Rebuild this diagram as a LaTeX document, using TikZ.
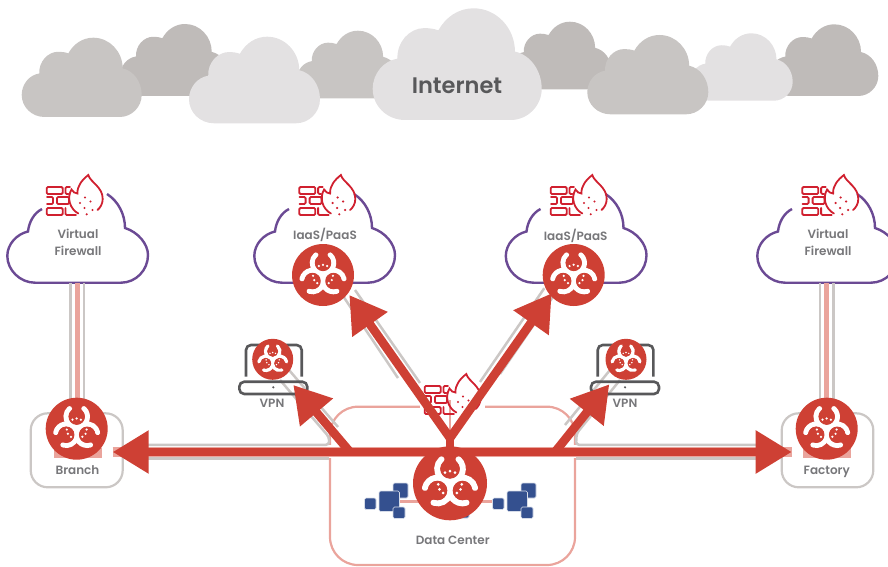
\documentclass[tikz,border=0pt]{standalone}
\usepackage{fontspec}
\setmainfont{Poppins}[UprightFont=* Medium,BoldFont=* SemiBold]
\usetikzlibrary{arrows.meta,calc}
\definecolor{hazred}{HTML}{CE4034}
\definecolor{pinkw}{HTML}{EAA49C}
\definecolor{grayw}{HTML}{CBC7C5}
\definecolor{cloudm}{HTML}{C8C5C3}
\definecolor{cloudd}{HTML}{BFBBB9}
\definecolor{cloudl}{HTML}{E3E1E2}
\definecolor{purp}{HTML}{6B4A94}
\definecolor{fwred}{HTML}{D0202F}
\definecolor{labg}{HTML}{77777A}
\definecolor{dgray}{HTML}{58585A}
\definecolor{blu}{HTML}{34508F}
\tikzset{
  hazard/.style={circle,fill=hazred,inner sep=0pt},
  lab/.style={text=labg,font=\fontsize{12}{17.5}\selectfont\bfseries,align=center,inner sep=0pt},
  graywire/.style={draw=grayw,line width=2.5pt,rounded corners=3pt},
  pinkwire/.style={draw=pinkw,line width=5pt},
  redwire/.style={draw=hazred,line width=8.7pt,-{Triangle[length=36pt,width=41pt]}},
  redstem/.style={draw=hazred,line width=8.7pt},
  roombox/.style={draw=grayw,line width=2.2pt,rounded corners=17pt,fill=white},
  blubox/.style={fill=blu,draw=white!80!blu,line width=.6pt,rounded corners=1.5pt},
  fwline/.style={draw=fwred,line width=1.8pt,rounded corners=1.2pt,line cap=round},
  purpline/.style={draw=purp,line width=2.4pt},
  lapline/.style={draw=dgray,line width=2.6pt,rounded corners=5pt}
}
% grey cloud: left x, top y, width, height
\newcommand\skycloud[5]{%
  \begin{scope}[shift={(#1,#2)},xscale=#3/120,yscale=#4/79]
    \fill[#5] (23,79) .. controls (10,79) and (0,69) .. (0,57) .. controls (0,46) and (8,37) .. (17.6,35.6)
      .. controls (17,24) and (26,14) .. (36.6,14) .. controls (40,14) and (44,14.5) .. (46.6,15.6)
      .. controls (52,6) and (61,0) .. (71.6,0) .. controls (88,0) and (101,14) .. (101,30.6)
      .. controls (112,33) and (120,44) .. (120,57) .. controls (120,69) and (110,79) .. (98,79) -- cycle;
  \end{scope}}
% purple cloud outline, shifted by dx
\newcommand\purpcloud[1]{%
  \begin{scope}[shift={(#1,0)}]
    \draw[purpline] (107,194) .. controls (118,201) and (125,214) .. (125,228)
      .. controls (138,232) and (148,244) .. (148,255) .. controls (148,270) and (136,282.7) .. (121,282.7)
      -- (35,282.7) .. controls (20,282.7) and (7.3,270) .. (7.3,256)
      .. controls (7.3,244) and (17,234) .. (28,231.5) .. controls (29,222) and (34,213) .. (42,209);
  \end{scope}}
% firewall icon
\newcommand\firewall[2]{%
  \begin{scope}[shift={(#1,#2)}]
    \draw[fwline] (46.7,187) rectangle (62.7,194);
    \draw[fwline] (70,187) -- (65.5,187) -- (65.5,194) -- (68.5,194);
    \draw[fwline] (47,197) -- (53,197) -- (53,204) -- (47,204);
    \draw[fwline] (57,197) rectangle (69,204);
    \draw[fwline] (46.7,208) rectangle (62.7,215);
    \draw[fwline] (65.5,208) -- (65.5,215) -- (76,215);
    \draw[draw=fwred,line width=1.8pt,line cap=round] (78.3,213.5) .. controls (70,209) and (66.5,198) .. (71.5,189.5)
      .. controls (73,192) and (75,193.5) .. (77.5,193.5) .. controls (77,186) and (82,180) .. (88.3,175)
      .. controls (90,182) and (103,187) .. (102.7,199) .. controls (102.7,204) and (100,208) .. (97.5,210);
    \foreach \p in {(80,203),(85,197.5),(90.5,201.5),(92.5,210),(86.7,214.3),(84.5,208)}
      \fill[fwred] \p circle (1.15pt);
  \end{scope}}
% biohazard badge
\newcommand\badge[4]{%
  \node[hazard,minimum size=2*#4 pt] (#1) at (#2,#3) {};
  \begin{scope}[shift={(#1.center)},x=1pt,y=1pt]
    \foreach \a in {90,210,330} {
      \draw[white,line width=#4*0.165pt,line cap=round]
        ([shift={(\a:.39*#4)}] \a+42:.345*#4) arc[start angle=\a+42,end angle=\a+318,radius=.345*#4];
    }
    \foreach \a in {90,210,330} {
      \fill[hazred] (\a:.39*#4) circle ({.265*#4});
      \fill[white] (\a+25:.32*#4) circle ({.04*#4});
      \fill[white] (\a:.33*#4) circle ({.04*#4});
      \fill[white] (\a-25:.32*#4) circle ({.04*#4});
    }
  \end{scope}}
% laptop icon
\newcommand\laptop[1]{%
  \begin{scope}[shift={(#1,0)}]
    \draw[lapline] (246,376.7) -- (246,345) -- (301.7,345) -- (301.7,376.7);
    \draw[lapline] (239.3,381.7) rectangle (307.3,394);
    \fill[dgray] (273.3,387.3) circle (1.2pt);
  \end{scope}}
% blue cluster
\newcommand\cluster[1]{%
  \begin{scope}[shift={(#1,0)}]
    \filldraw[blubox] (393,483) rectangle (408,498);
    \filldraw[blubox] (364.5,498) rectangle (376,509.5);
    \filldraw[blubox] (379,491) rectangle (399.5,511.5);
    \filldraw[blubox] (393,507) rectangle (405,518.5);
  \end{scope}}
\begin{document}
\begin{tikzpicture}[x=1pt,y=-1pt]
\useasboundingbox (0,0) rectangle (888,567);
% sky
\skycloud{120}{24}{109}{72}{cloudd}
\skycloud{296.7}{30.7}{102.7}{67.6}{cloudm}
\skycloud{508.7}{21.7}{102.7}{67.6}{cloudd}
\skycloud{769.3}{24.3}{109}{71.7}{cloudd}
\skycloud{690.3}{33.3}{102.4}{67.4}{cloudl}
\skycloud{21.7}{37.7}{120}{79.3}{cloudm}
\skycloud{189}{36.7}{131}{86.6}{cloudl}
\skycloud{372.7}{8.3}{169}{111.7}{cloudl}
\skycloud{587.3}{35}{121}{79.3}{cloudm}
\node[text=dgray,font=\fontsize{22.5}{24}\selectfont\bfseries,inner sep=0pt] (internet) at (457,85.5) {Internet};
% purple clouds
\purpcloud{0}\purpcloud{247}\purpcloud{498.5}\purpcloud{750}
% rooms
\draw[roombox] (30.7,413.3) rectangle (122.7,487.3);
\draw[roombox] (781.7,413.3) rectangle (873.3,487.3);
\draw[draw=pinkw,line width=2.2pt,rounded corners=28pt] (330,406.7) rectangle (575,565);
\fill[white] (322,445) rectangle (338,458);
\fill[white] (567,445) rectangle (583,458);
\fill[white] (420,400) rectangle (485,412);
% coordinates
\coordinate (hub) at (450,452);
\coordinate (stem) at (450,438);
\coordinate (tipB) at (112.7,452);
\coordinate (tipF) at (791.7,452);
\coordinate (tipI) at (349.3,295);
\coordinate (tipJ) at (551.7,293.3);
\coordinate (tipV) at (293.3,385);
\coordinate (tipW) at (609.3,384.3);
\coordinate (hubV) at (350,452);
\coordinate (hubW) at (555,452);
\coordinate (vfwA) at (77.3,283);
\coordinate (vfwB) at (77.3,400);
\coordinate (vfwC) at (826.7,283);
\coordinate (vfwD) at (826.7,400);
% pink wires
\draw[pinkwire] (vfwA) -- (vfwB);
\draw[pinkwire] (vfwC) -- (vfwD);
\fill[pinkw] (54,448) rectangle (102,458);
\fill[pinkw] (803,448) rectangle (851,458);
\draw[draw=pinkw,line width=9.6pt] (tipB) -- (tipF);
\draw[draw=pinkw,line width=3pt] (399,501) -- (492,501);
\draw[draw=pinkw,line width=1.5pt] (450,400) -- (stem);
% grey wires
\draw[graywire] ([xshift=-6.7pt]vfwA) -- ([xshift=-6.7pt]vfwB);
\draw[graywire] ([xshift=6.7pt]vfwA) -- ([xshift=6.7pt]vfwB);
\draw[graywire] ([xshift=-6.7pt]vfwC) -- ([xshift=-6.7pt]vfwD);
\draw[graywire] ([xshift=6.7pt]vfwC) -- ([xshift=6.7pt]vfwD);
\draw[graywire] (147,444.8) -- (329,444.8) -- (329,437) -- (280,380);
\draw[graywire] (147,458.3) -- (329,458.3);
\draw[graywire] (289,370) -- (338,427);
\draw[graywire] (756,444.8) -- (576,444.8) -- (576.7,433.3) -- (620,380);
\draw[graywire] (576,458.3) -- (756,458.3);
\draw[graywire] (610,370) -- (565,425);
% IaaS wires, grey
\draw[graywire] (343,296) -- (398,378);
\draw[graywire] (355,290) -- (420,383);
\draw[graywire] (544.3,288.2) -- (480,382);
\draw[graywire] (554.2,295) -- (500,374);
% firewalls
\firewall{0}{0}\firewall{252.6}{0}\firewall{504}{0}\firewall{755.6}{0}\firewall{378}{199}
% laptops
\laptop{0}\laptop{351.7}
% blue
\cluster{0}\cluster{128}
\filldraw[blubox] (455,505) rectangle (469,518);
% red connectors
\draw[redstem] (stem) -- (hub);
\draw[redwire] (hub) -- (tipB);
\draw[redwire] (hub) -- (tipF);
\draw[redwire] (stem) -- (tipI);
\draw[redwire] (stem) -- (tipJ);
\draw[redwire] (hubV) -- (tipV);
\draw[redwire] (hubW) -- (tipW);
% badges
\badge{branch}{76.7}{428.7}{31}
\badge{factory}{826.7}{428.7}{31}
\badge{iaasA}{323}{275}{31}
\badge{iaasB}{573.7}{275}{31}
\badge{vpnA}{272.7}{359.3}{20.5}
\badge{vpnB}{626}{359.3}{20.5}
\badge{dc}{450}{483.3}{37}
% labels
\node[lab] (t1) at (78,242.5) {Virtual\\Firewall};
\node[lab] (t2) at (828,242.5) {Virtual\\Firewall};
\node[lab] (t3) at (325,235) {IaaS/PaaS};
\node[lab] (t4) at (575.7,235.5) {IaaS/PaaS};
\node[lab] (t5) at (272,403.5) {VPN};
\node[lab] (t6) at (625,403.5) {VPN};
\node[lab] (t7) at (77.5,470) {Branch};
\node[lab] (t8) at (826.7,471.7) {Factory};
\node[lab] (t9) at (452.7,540) {Data Center};
\end{tikzpicture}
\end{document}
